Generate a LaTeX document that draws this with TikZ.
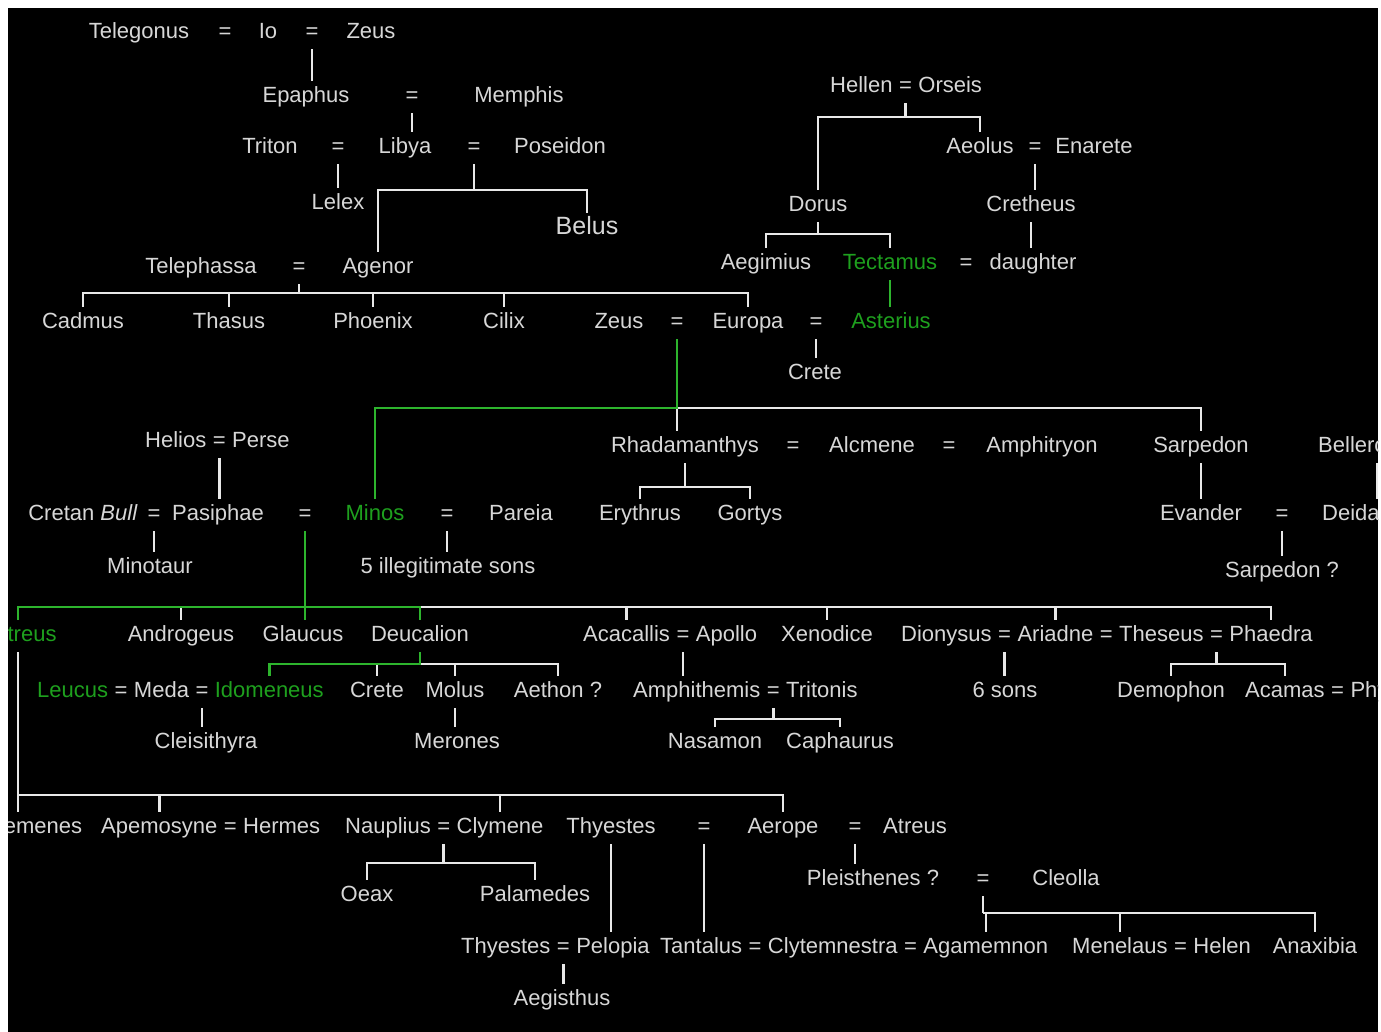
\documentclass[tikz,border=0pt]{standalone}
\usepackage{fontspec}
\setmainfont{Liberation Sans}
\usetikzlibrary{positioning}
\definecolor{textgrey}{RGB}{215,215,215}
\definecolor{linegrey}{RGB}{232,232,232}
\definecolor{treegreen}{RGB}{30,160,30}
\definecolor{linegreen}{RGB}{45,180,45}

\begin{document}
\begin{tikzpicture}[x=1pt, y=-1pt,
    person/.style={text=textgrey, font=\fontsize{22}{24}\selectfont, inner xsep=0pt, inner ysep=5.5pt, text height=16pt, text depth=5pt},
    hl/.style={person, text=treegreen},
    eq/.style={person, inner xsep=6.1pt},
    famline/.style={draw=linegrey, line width=2.5pt},
    greenline/.style={draw=linegreen, line width=2.5pt}]
    \useasboundingbox (0,0) rectangle (1381,1032);
    \fill[white] (0,0) rectangle (1381,1032);
    \fill[black] (8,8) rectangle (1378,1032);

    \begin{scope}
    \clip (8,8) rectangle (1378,1032);

    % Io and Agenor's line
    \node[person] (telegonus) at (139,33) {Telegonus};
    \node[eq] (m1) at (225,33) {=};
    \node[person] (io) at (268,33) {Io};
    \node[eq] (m2) at (312,33) {=};
    \node[person] (zeus1) at (371,33) {Zeus};
    \node[person] (epaphus) at (306,97) {Epaphus};
    \node[eq] (m3) at (412,97) {=};
    \node[person] (memphis) at (519,97) {Memphis};
    \node[person] (triton) at (270,148) {Triton};
    \node[eq] (m4) at (338,148) {=};
    \node[person] (libya) at (405,148) {Libya};
    \node[eq] (m5) at (474,148) {=};
    \node[person] (poseidon) at (560,148) {Poseidon};
    \node[person] (lelex) at (338,204) {Lelex};
    \node[person, font=\fontsize{25}{28}\selectfont] (belus) at (587,229) {Belus};
    \node[person] (telephassa) at (201,268) {Telephassa};
    \node[eq] (m6) at (299,268) {=};
    \node[person] (agenor) at (378,268) {Agenor};
    \node[person] (cadmus) at (83,323) {Cadmus};
    \node[person] (thasus) at (229,323) {Thasus};
    \node[person] (phoenix) at (373,323) {Phoenix};
    \node[person] (cilix) at (504,323) {Cilix};
    \node[person] (zeus2) at (619,323) {Zeus};
    \node[eq] (m7) at (677,323) {=};
    \node[person] (europa) at (748,323) {Europa};
    \node[eq] (m8) at (816,323) {=};
    \node[hl] (asterius) at (891,323) {Asterius};
    \node[person] (crete1) at (815,374) {Crete};

    % Hellen's line
    \node[person, anchor=west] (hellen) at (830,87) {Hellen};
    \node[eq, right=0pt of hellen] (m9) {=};
    \node[person, right=0pt of m9] (orseis) {Orseis};
    \node[person] (aeolus) at (980,148) {Aeolus};
    \node[eq] (m10) at (1035,148) {=};
    \node[person] (enarete) at (1094,148) {Enarete};
    \node[person] (dorus) at (818,206) {Dorus};
    \node[person] (cretheus) at (1031,206) {Cretheus};
    \node[person] (aegimius) at (766,264) {Aegimius};
    \node[hl] (tectamus) at (890,264) {Tectamus};
    \node[eq] (m11) at (966,264) {=};
    \node[person] (daughter) at (1033,264) {daughter};

    % Minos and his brothers
    \node[person, anchor=west] (helios) at (145,442) {Helios};
    \node[eq, right=0pt of helios] (m12) {=};
    \node[person, right=0pt of m12] (perse) {Perse};
    \node[person] (bull) at (83,515) {Cretan \textit{Bull}};
    \node[eq] (m13) at (154,515) {=};
    \node[person] (pasiphae) at (218,515) {Pasiphae};
    \node[eq] (m14) at (305,515) {=};
    \node[hl] (minos) at (375,515) {Minos};
    \node[eq] (m15) at (447,515) {=};
    \node[person] (pareia) at (521,515) {Pareia};
    \node[person] (minotaur) at (150,568) {Minotaur};
    \node[person] (illegit) at (448,568) {5 illegitimate sons};
    \node[person] (rhadam) at (685,447) {Rhadamanthys};
    \node[eq] (m16) at (793,447) {=};
    \node[person] (alcmene) at (872,447) {Alcmene};
    \node[eq] (m17) at (949,447) {=};
    \node[person] (amphitryon) at (1042,447) {Amphitryon};
    \node[person] (sarpedon1) at (1201,447) {Sarpedon};
    \node[person, anchor=west] (bellero) at (1318,447) {Bellerophon};
    \node[person] (erythrus) at (640,515) {Erythrus};
    \node[person] (gortys) at (750,515) {Gortys};
    \node[person] (evander) at (1201,515) {Evander};
    \node[eq] (m18) at (1282,515) {=};
    \node[person, anchor=west] (deidamia) at (1322,515) {Deidamia};
    \node[person] (sarpedon2) at (1282,572) {Sarpedon ?};

    % children of Minos
    \node[hl] (catreus) at (18,636) {Catreus};
    \node[person] (androgeus) at (181,636) {Androgeus};
    \node[person] (glaucus) at (303,636) {Glaucus};
    \node[person] (deucalion) at (420,636) {Deucalion};
    \node[person, anchor=west] (acacallis) at (583,636) {Acacallis};
    \node[eq, right=0pt of acacallis] (m19) {=};
    \node[person, right=0pt of m19] (apollo) {Apollo};
    \node[person] (xenodice) at (827,636) {Xenodice};
    \node[person, anchor=west] (dionysus) at (901,636) {Dionysus};
    \node[eq, right=0pt of dionysus] (m20) {=};
    \node[person, right=0pt of m20] (ariadne) {Ariadne};
    \node[eq, right=0pt of ariadne] (m21) {=};
    \node[person, right=0pt of m21] (theseus) {Theseus};
    \node[eq, right=0pt of theseus] (m22) {=};
    \node[person, right=0pt of m22] (phaedra) {Phaedra};

    \node[hl, anchor=west] (leucus) at (37,692) {Leucus};
    \node[eq, right=0pt of leucus] (m23) {=};
    \node[person, right=0pt of m23] (meda) {Meda};
    \node[eq, right=0pt of meda] (m24) {=};
    \node[hl, right=0pt of m24] (idomeneus) {Idomeneus};
    \node[person] (crete2) at (377,692) {Crete};
    \node[person] (molus) at (455,692) {Molus};
    \node[person] (aethon) at (558,692) {Aethon ?};
    \node[person, anchor=west] (amphithemis) at (633,692) {Amphithemis};
    \node[eq, right=0pt of amphithemis] (m25) {=};
    \node[person, right=0pt of m25] (tritonis) {Tritonis};
    \node[person] (sixsons) at (1005,692) {6 sons};
    \node[person] (demophon) at (1171,692) {Demophon};
    \node[person, anchor=west] (acamas) at (1245,692) {Acamas};
    \node[eq, right=0pt of acamas] (m26) {=};
    \node[person, right=0pt of m26] (phyllis) {Phyllis};
    \node[person] (cleisithyra) at (206,743) {Cleisithyra};
    \node[person] (merones) at (457,743) {Merones};
    \node[person] (nasamon) at (715,743) {Nasamon};
    \node[person] (caphaurus) at (840,743) {Caphaurus};

    % Catreus' line
    \node[person] (althaemenes) at (18,828) {Althaemenes};
    \node[person, anchor=west] (apemosyne) at (101,828) {Apemosyne};
    \node[eq, right=0pt of apemosyne] (m27) {=};
    \node[person, right=0pt of m27] (hermes) {Hermes};
    \node[person, anchor=west] (nauplius) at (345,828) {Nauplius};
    \node[eq, right=0pt of nauplius] (m28) {=};
    \node[person, right=0pt of m28] (clymene) {Clymene};
    \node[person] (thyestes1) at (611,828) {Thyestes};
    \node[eq] (m29) at (704,828) {=};
    \node[person] (aerope) at (783,828) {Aerope};
    \node[eq] (m30) at (855,828) {=};
    \node[person] (atreus) at (915,828) {Atreus};
    \node[person] (oeax) at (367,896) {Oeax};
    \node[person] (palamedes) at (535,896) {Palamedes};
    \node[person] (pleisthenes) at (873,880) {Pleisthenes ?};
    \node[eq] (m31) at (983,880) {=};
    \node[person] (cleolla) at (1066,880) {Cleolla};
    \node[person, anchor=west] (thyestes2) at (461,948) {Thyestes};
    \node[eq, right=0pt of thyestes2] (m32) {=};
    \node[person, right=0pt of m32] (pelopia) {Pelopia};
    \node[person, anchor=west] (tantalus) at (660,948) {Tantalus};
    \node[eq, right=0pt of tantalus] (m33) {=};
    \node[person, right=0pt of m33] (clytemnestra) {Clytemnestra};
    \node[eq, right=0pt of clytemnestra] (m34) {=};
    \node[person, right=0pt of m34] (agamemnon) {Agamemnon};
    \node[person, anchor=west] (menelaus) at (1072,948) {Menelaus};
    \node[eq, right=0pt of menelaus] (m35) {=};
    \node[person, right=0pt of m35] (helen) {Helen};
    \node[person] (anaxibia) at (1315,948) {Anaxibia};
    \node[person] (aegisthus) at (562,1000) {Aegisthus};

    % levels of the sibling bars
    \coordinate (barA) at (299,293);
    \coordinate (barB) at (474,190);
    \coordinate (barC) at (906,117);
    \coordinate (barD) at (818,234);
    \coordinate (barE) at (677,408);
    \coordinate (barF) at (305,607);
    \coordinate (barG) at (420,664);
    \coordinate (barH) at (18,795);
    \coordinate (barI) at (772,719);
    \coordinate (barJ) at (1218,664);
    \coordinate (barK) at (693,487);
    \coordinate (barL) at (443,863);
    \coordinate (barM) at (983,913);

    \draw[famline] (m2.south) -- (m2.south |- epaphus.north);
    \draw[famline] (m3.south) -- (m3.south |- libya.north);
    \draw[famline] (m4.south) -- (lelex.north);
    \draw[famline] (m5.south) -- (m5.south |- barB);
    \draw[famline] (agenor.north) |- (barB) -| (belus.north);
    \draw[famline] (m6.south) -- (m6.south |- barA);
    \draw[famline] (cadmus.north) |- (barA) -| (europa.north);
    \foreach \c in {thasus,phoenix,cilix}
        \draw[famline] (\c.north) -- (\c.north |- barA);
    \draw[famline] (m8.south) -- (m8.south |- crete1.north);

    \draw[famline] (m9.south) -- (m9.south |- barC);
    \draw[famline] (dorus.north) |- (barC) -| (aeolus.north);
    \draw[famline] (m10.south) -- (m10.south |- cretheus.north);
    \draw[famline] (dorus.south) -- (dorus.south |- barD);
    \draw[famline] (aegimius.north) |- (barD) -| (tectamus.north);
    \draw[famline] (cretheus.south) -- (cretheus.south |- daughter.north);
    \draw[greenline] (tectamus.south) -- (tectamus.south |- asterius.north);

    \draw[famline] (barE) -| (sarpedon1.north);
    \draw[famline] (barE) -- (barE |- rhadam.north);
    \draw[greenline] (m7.south) -- (barE) -| (minos.north);

    \draw[famline] (m12.south) -- (m12.south |- pasiphae.north);
    \draw[famline] (m13.south) -- (m13.south |- minotaur.north);
    \draw[famline] (m15.south) -- (m15.south |- illegit.north);
    \draw[famline] (rhadam.south) -- (rhadam.south |- barK);
    \draw[famline] (erythrus.north) |- (barK) -| (gortys.north);
    \draw[famline] (sarpedon1.south) -- (evander.north);
    \draw[famline] (m18.south) -- (m18.south |- sarpedon2.north);
    \draw[famline] (bellero.south) -- (bellero.south |- deidamia.north);

    \draw[famline] (deucalion.north |- barF) -| (phaedra.north);
    \foreach \c in {androgeus,acacallis,xenodice,ariadne}
        \draw[famline] (\c.north) -- (\c.north |- barF);
    \draw[greenline] (catreus.north) |- (barF) -| (deucalion.north);
    \draw[greenline] (m14.south) -- (m14.south |- glaucus.north);

    \draw[famline] (deucalion.south |- barG) -| (aethon.north);
    \foreach \c in {crete2,molus}
        \draw[famline] (\c.north) -- (\c.north |- barG);
    \draw[greenline] (deucalion.south) -- (deucalion.south |- barG) -| (idomeneus.north);
    \draw[famline] (m24.south) -- (m24.south |- cleisithyra.north);
    \draw[famline] (molus.south) -- (molus.south |- merones.north);
    \draw[famline] (m19.south) -- (m19.south |- amphithemis.north);
    \draw[famline] (m25.south) -- (m25.south |- barI);
    \draw[famline] (nasamon.north) |- (barI) -| (caphaurus.north);
    \draw[famline] (m20.south) -- (m20.south |- sixsons.north);
    \draw[famline] (m22.south) -- (m22.south |- barJ);
    \draw[famline] (demophon.north) |- (barJ) -| (acamas.north);

    \draw[famline] (catreus.south) -- (althaemenes.north);
    \draw[famline] (catreus.south |- barH) -| (aerope.north);
    \foreach \c in {apemosyne,clymene}
        \draw[famline] (\c.north) -- (\c.north |- barH);
    \draw[famline] (m28.south) -- (m28.south |- barL);
    \draw[famline] (oeax.north) |- (barL) -| (palamedes.north);
    \draw[famline] (thyestes1.south) -- (thyestes1.south |- pelopia.north);
    \draw[famline] (m29.south) -- (m29.south |- tantalus.north);
    \draw[famline] (m30.south) -- (m30.south |- pleisthenes.north);
    \draw[famline] (m31.south) -- (m31.south |- barM);
    \draw[famline] (agamemnon.north) |- (barM) -| (anaxibia.north);
    \draw[famline] (menelaus.north) -- (menelaus.north |- barM);
    \draw[famline] (m32.south) -- (m32.south |- aegisthus.north);
    \end{scope}
\end{tikzpicture}
\end{document}
